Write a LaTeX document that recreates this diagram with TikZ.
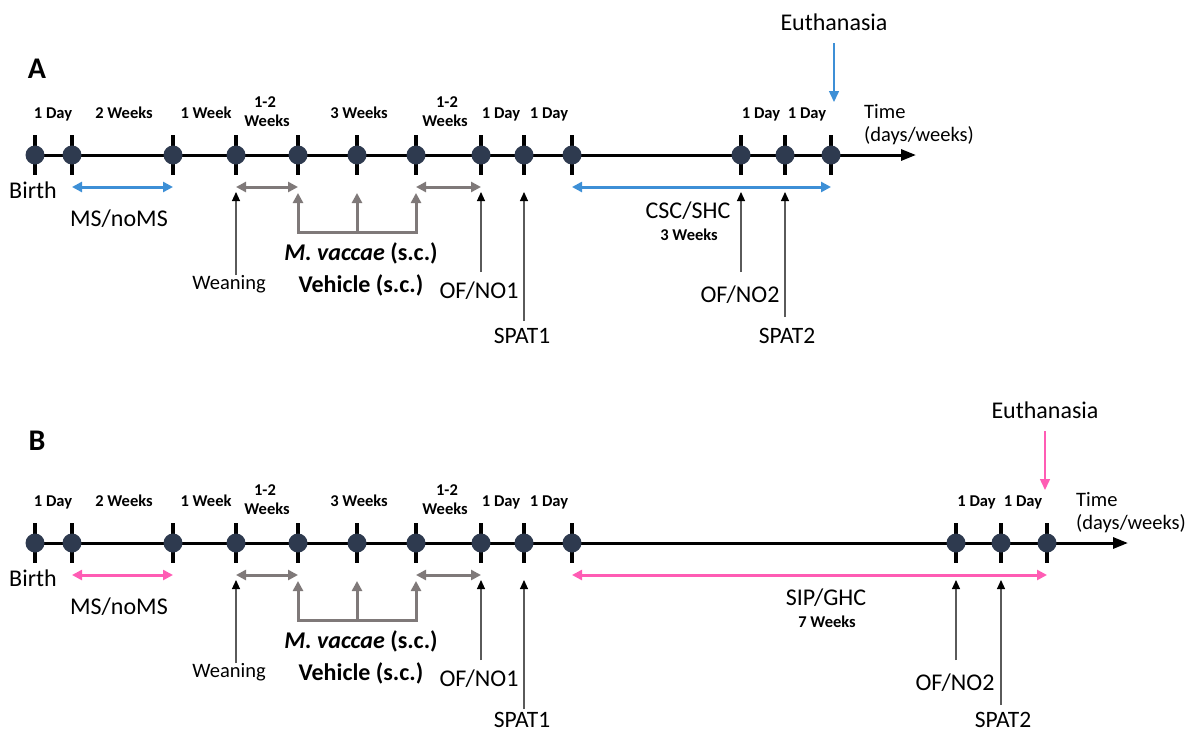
\documentclass[tikz,border=0pt]{standalone}
\usepackage{fontspec}
\setmainfont{Carlito}
\usetikzlibrary{arrows.meta,calc}
\definecolor{dotc}{HTML}{2E3A4F}
\definecolor{myblue}{HTML}{3D8FD6}
\definecolor{mypink}{HTML}{FF5CB4}
\definecolor{mygray}{HTML}{7F7979}
\definecolor{thinc}{HTML}{5A5A5A}
\begin{document}
\begin{tikzpicture}[x=1pt,y=-1pt,
  dot/.style={circle,fill=dotc,minimum size=19pt,inner sep=0pt},
  tickmark/.style={line width=4.5pt,black},
  axisline/.style={line width=3pt,-{Triangle[length=15pt,width=11pt]}},
  ival/.style={font=\fontsize{16.5}{18}\selectfont\bfseries,anchor=base,inner sep=0pt},
  lab/.style={font=\fontsize{24}{28}\selectfont,anchor=base,inner sep=0pt},
  labm/.style={font=\fontsize{20.5}{24}\selectfont,anchor=base,inner sep=0pt},
  panel/.style={font=\fontsize{30}{34}\selectfont\bfseries,anchor=base,inner sep=0pt},
  colarr/.style={line width=3pt,{Triangle[length=10pt,width=10pt]}-{Triangle[length=10pt,width=10pt]}},
  grayone/.style={draw=mygray,line width=3pt,-{Triangle[length=10pt,width=10pt]}},
  thinarr/.style={draw=thinc,line width=1.1pt,-{Triangle[length=9pt,width=8pt,color=black]}},
  eutharr/.style={line width=1.5pt,-{Triangle[length=11pt,width=10pt]}},
]
\useasboundingbox (0,0) rectangle (1191,731);

\node[panel] (pA) at (37,78) {A};
\node[panel] (pB) at (37,450) {B};

\foreach \p/\dy/\c/\xk/\xl/\xm/\xe/\eu/\spy in {a/0/myblue/741/785/831/916/834/343,b/388/mypink/956/1001/1047/1128/1045/339}{
\begin{scope}[yshift=-\dy pt]
  \coordinate (\p-start) at (35,155);
  \coordinate (\p-end) at (\xe,155);
  \draw[axisline] (\p-start) -- (\p-end);
  \foreach \i/\x in {1/35,2/72,3/173,4/236,5/298,6/357,7/416,8/481,9/524,10/572,11/\xk,12/\xl,13/\xm}{
    \draw[tickmark] (\x,135) -- (\x,175);
    \node[dot] (\p\i) at (\x,155) {};
  }
  % interval labels
  \node[ival] (\p-l1) at (53,118) {1 Day};
  \node[ival] (\p-l2) at (124,118) {2 Weeks};
  \node[ival] (\p-l3) at (206,118) {1 Week};
  \node[ival] (\p-l4a) at (265,107) {1-2};
  \node[ival] (\p-l4b) at (267,126) {Weeks};
  \node[ival] (\p-l5) at (359,118) {3 Weeks};
  \node[ival] (\p-l6a) at (447,107) {1-2};
  \node[ival] (\p-l6b) at (445,126) {Weeks};
  \node[ival] (\p-l7) at (501,118) {1 Day};
  \node[ival] (\p-l8) at (549,118) {1 Day};
  \node[ival] (\p-l9) at ({(\xk+\xl)/2-2},118) {1 Day};
  \node[ival] (\p-l10) at ({(\xl+\xm)/2-1},118) {1 Day};
  \node[labm,anchor=base west] (\p-time) at (\xe-52,118) {Time};
  \node[labm,anchor=base west] (\p-unit) at (\xe-52,141) {(days/weeks)};
  % euthanasia
  \node[lab] (\p-euth) at (\eu,30) {Euthanasia};
  \coordinate (\p-eutip) at (\eu,102);
  \draw[eutharr,draw=\c] (\p-euth.south |- 0,43) -- (\p-eutip);
  % below-line
  \node[lab] (\p-birth) at (33,198) {Birth};
  \node[lab] (\p-ms) at (119,226) {MS/noMS};
  \draw[colarr,draw=\c] ($(\p2)+(0,32)$) -- ($(\p3)+(0,32)$);
  \draw[colarr,draw=mygray] ($(\p4)+(0,32)$) -- ($(\p5)+(0,32)$);
  \draw[colarr,draw=mygray] ($(\p7)+(0,32)$) -- ($(\p8)+(0,32)$);
  \draw[colarr,draw=mygray,line join=miter] ($(\p5)+(0,38)$) -- ($(\p5)+(0,77)$) -- ($(\p7)+(0,77)$) -- ($(\p7)+(0,38)$);
  \draw[grayone] ($(\p6)+(0,77)$) -- ($(\p6)+(0,38)$);
  \node[labm] (\p-wean) at (229,289) {Weaning};
  \draw[thinarr] ($(\p4)+(0,120)$) -- ($(\p4)+(0,37)$);
  \node[lab] (\p-mv) at (361,260) {\bfseries\itshape M. vaccae\/ \upshape(s.c.)};
  \node[lab] (\p-veh) at (361,292) {\bfseries Vehicle (s.c.)};
  \node[lab] (\p-of1) at (479,298) {OF/NO1};
  \draw[thinarr] ($(\p8)+(0,117)$) -- ($(\p8)+(0,37)$);
  \node[lab,font=\fontsize{23.5}{28}\selectfont] (\p-sp1) at (522,\spy) {SPAT1};
  \draw[thinarr] ($(\p9)+(0,166)$) -- ($(\p9)+(0,37)$);
  \draw[colarr,draw=\c] ($(\p10)+(0,32)$) -- ($(\p13)+(0,32)$);
  \node[lab] (\p-of2) at (\xk-1,302) {OF/NO2};
  \draw[thinarr] ($(\p11)+(0,117)$) -- ($(\p11)+(0,37)$);
  \node[lab,font=\fontsize{23.5}{28}\selectfont] (\p-sp2) at (\xl+2,\spy) {SPAT2};
  \draw[thinarr] ($(\p12)+(0,162)$) -- ($(\p12)+(0,37)$);
\end{scope}
}

\node[lab] (a-cond) at (688,218) {CSC/SHC};
\node[ival] (a-cw) at (689,240) {3 Weeks};
\node[lab] (b-cond) at (826,605) {SIP/GHC};
\node[ival] (b-cw) at (827,627) {7 Weeks};
\end{tikzpicture}
\end{document}
